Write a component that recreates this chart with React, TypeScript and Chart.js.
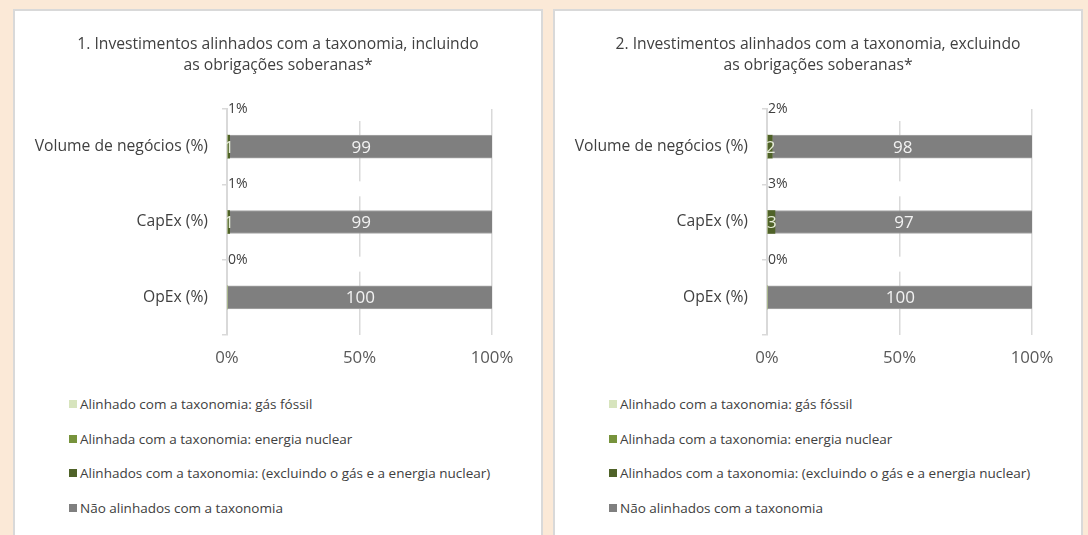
import React, { useEffect, useRef } from 'react';
import { Chart, registerables } from 'chart.js';

Chart.register(...registerables);

const FONT = '"Open Sans", "Noto Sans", sans-serif';

const categories = ['Volume de negócios (%)', 'CapEx (%)', 'OpEx (%)'];
const seriesNames = [
  'Alinhado com a taxonomia: gás fóssil',
  'Alinhada com a taxonomia: energia nuclear',
  'Alinhados com a taxonomia: (excluindo o gás e a energia nuclear)',
  'Não alinhados com a taxonomia',
];
const seriesColors = ['#d7e4bd', '#77933c', '#4f6228', '#7f7f7f'];
const xTickValues = [0, 50, 100];

const title1 = ['1. Investimentos alinhados com a taxonomia, incluindo', 'as obrigações soberanas*'];
const gas1 = [0, 0, 0];
const nuclear1 = [0, 0, 0];
const aligned1 = [1, 1, 0];
const notAligned1 = [99, 99, 100];
const total1 = ['1%', '1%', '0%'];

const title2 = ['2. Investimentos alinhados com a taxonomia, excluindo', 'as obrigações soberanas*'];
const gas2 = [0, 0, 0];
const nuclear2 = [0, 0, 0];
const aligned2 = [2, 3, 0];
const notAligned2 = [98, 97, 100];
const total2 = ['2%', '3%', '0%'];

type PanelProps = {
  left: number;
  title: string[];
  series: number[][];
  totals: string[];
};

function Panel({ left, title, series, totals }: PanelProps) {
  const ref = useRef<HTMLCanvasElement | null>(null);

  useEffect(() => {
    if (!ref.current) return;

    const gapPlugin = {
      id: 'gaps',
      beforeDatasetsDraw(chart: any) {
        const { ctx, chartArea } = chart;
        const y = chart.scales.y;
        const half = (y.getPixelForValue(1) - y.getPixelForValue(0)) / 2;
        ctx.save();
        ctx.fillStyle = '#ffffff';
        categories.forEach((_, i) => {
          const b = y.getPixelForValue(i) - half;
          ctx.fillRect(chartArea.left + 1.5, b - 3, 150, 15);
        });
        ctx.restore();
      },
    };

    const labelPlugin = {
      id: 'labels',
      afterDatasetsDraw(chart: any) {
        const { ctx, chartArea } = chart;
        ctx.save();
        ctx.textAlign = 'center';
        ctx.textBaseline = 'middle';
        ctx.font = `17px ${FONT}`;
        chart.data.datasets.forEach((ds: any, di: number) => {
          const meta = chart.getDatasetMeta(di);
          meta.data.forEach((el: any, i: number) => {
            const v = ds.data[i];
            if (!v) return;
            const p = el.getProps(['x', 'base', 'y'], true);
            ctx.fillStyle = di === 3 ? '#f2f2f2' : '#e6ecd8';
            ctx.fillText(String(v), (p.x + p.base) / 2 + 0.5, p.y + 1);
          });
        });
        const y = chart.scales.y;
        const half = (y.getPixelForValue(1) - y.getPixelForValue(0)) / 2;
        ctx.textAlign = 'left';
        ctx.font = `14px ${FONT}`;
        ctx.fillStyle = '#404040';
        totals.forEach((t, i) => {
          const b = y.getPixelForValue(i) - half;
          ctx.fillText(t, chartArea.left + 1, b);
        });
        ctx.restore();
      },
    };

    const chart = new Chart(ref.current, {
      type: 'bar',
      data: {
        labels: categories,
        datasets: seriesNames.map((name, k) => ({
          label: name,
          data: series[k],
          backgroundColor: seriesColors[k],
          borderColor: k === 3 ? '#a6a6a6' : seriesColors[k],
          borderWidth: k === 3 ? { top: 1, bottom: 1, left: 0, right: 0 } : 0,
          borderSkipped: false,
          barThickness: 23,
        })),
      },
      options: {
        indexAxis: 'y',
        responsive: false,
        animation: false,
        layout: { padding: 0 },
        plugins: {
          legend: { display: false },
          tooltip: { enabled: false },
          title: {
            display: true,
            text: title,
            color: '#404040',
            font: { family: FONT, size: 15.7, weight: 'normal', lineHeight: 1.35 },
            padding: { top: 23, bottom: 32.6 },
          },
        },
        scales: {
          x: {
            stacked: true,
            min: 0,
            max: 100,
            afterBuildTicks(scale: any) {
              scale.ticks = xTickValues.map((v) => ({ value: v }));
            },
            afterFit(scale: any) {
              scale.height = 40;
            },
            grid: { color: '#d9d9d9', lineWidth: 1.5, drawTicks: false },
            border: { display: false },
            ticks: {
              color: '#595959',
              padding: 13,
              font: { family: FONT, size: 16.8 },
              callback: (v: any) => `${v}%`,
            },
          },
          y: {
            stacked: true,
            afterFit(scale: any) {
              scale.width = 212;
            },
            grid: {
              offset: true,
              drawOnChartArea: false,
              drawTicks: true,
              tickLength: 5,
              color: '#d9d9d9',
              lineWidth: 1.5,
            },
            border: { display: true, color: '#d9d9d9', width: 2 },
            ticks: {
              color: '#404040',
              padding: 14,
              font: { family: FONT, size: 15.7 },
            },
          },
          spacer: {
            type: 'category',
            position: 'right',
            axis: 'y',
            afterFit(scale: any) {
              scale.width = 49;
            },
            grid: { display: false },
            border: { display: false },
            ticks: { display: false },
          },
        },
      },
      plugins: [gapPlugin, labelPlugin],
    } as any);

    return () => chart.destroy();
  }, []);

  return (
    <div
      style={{
        position: 'absolute',
        left,
        top: 9,
        width: 530,
        height: 545,
        boxSizing: 'border-box',
        border: '2px solid #d9d9d9',
        background: '#ffffff',
      }}
    >
      <canvas ref={ref} width={526} height={364} style={{ position: 'absolute', left: 0, top: 0 }} />
      <div style={{ position: 'absolute', left: 54, top: 376 }}>
        {seriesNames.map((name, k) => (
          <div
            key={name}
            style={{
              height: 34.5,
              display: 'flex',
              alignItems: 'center',
              fontFamily: FONT,
              fontSize: 13.5,
              color: '#404040',
              whiteSpace: 'nowrap',
            }}
          >
            <span
              style={{
                display: 'inline-block',
                width: 8,
                height: 8,
                background: seriesColors[k],
                marginRight: 3,
              }}
            />
            {name}
          </div>
        ))}
      </div>
    </div>
  );
}

export default function App() {
  return (
    <div
      style={{
        position: 'fixed',
        left: 0,
        top: 0,
        width: 1088,
        height: 535,
        background: '#fbe9d7',
        overflow: 'hidden',
      }}
    >
      <Panel left={13} title={title1} series={[gas1, nuclear1, aligned1, notAligned1]} totals={total1} />
      <Panel left={553} title={title2} series={[gas2, nuclear2, aligned2, notAligned2]} totals={total2} />
    </div>
  );
}
